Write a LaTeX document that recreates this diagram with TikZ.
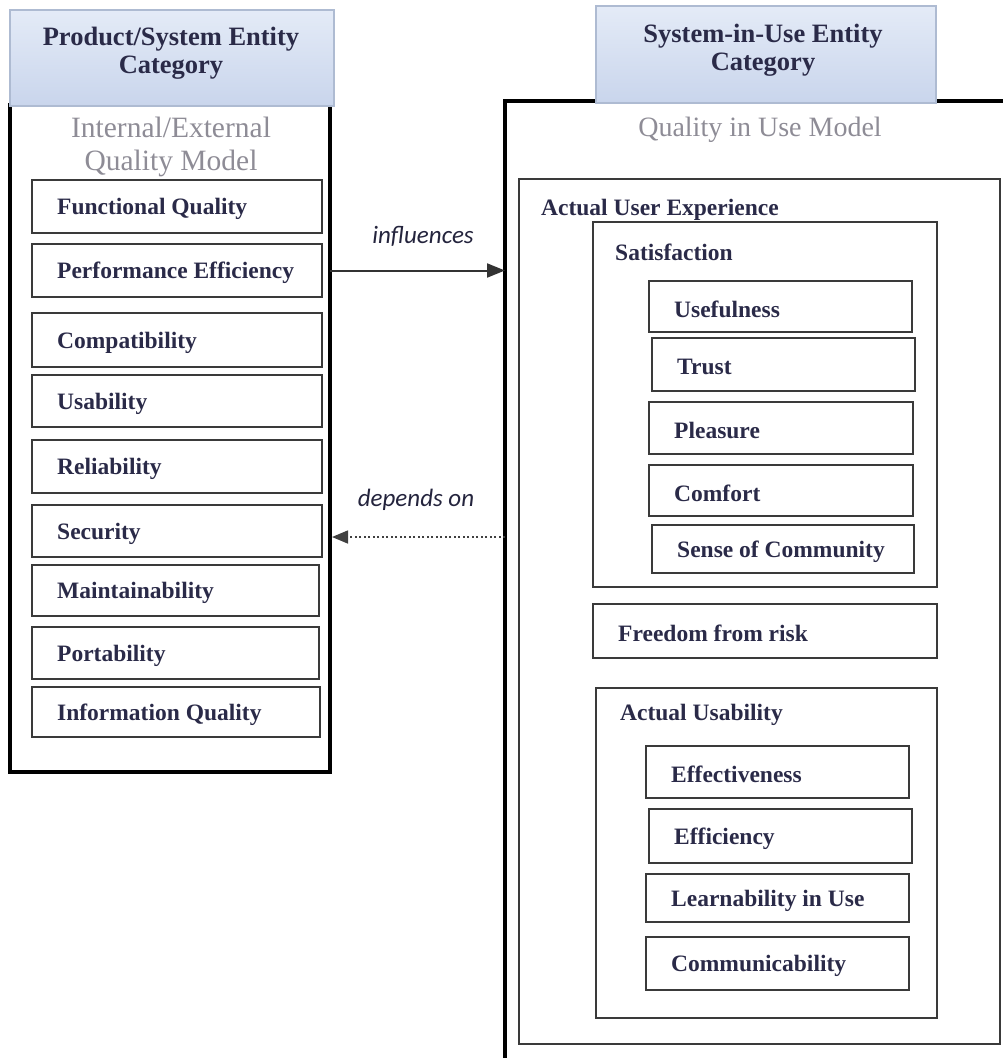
\documentclass[tikz,border=0pt]{standalone}
\usepackage{fontspec}
\setmainfont{Liberation Serif}
\newfontfamily\carl{Carlito}
\usetikzlibrary{arrows.meta,calc}
\definecolor{itemcol}{HTML}{2A2A48}
\definecolor{titlegray}{HTML}{8E8C96}
\definecolor{boxgray}{HTML}{3A3A3A}
\definecolor{hdrtop}{HTML}{E4EBF7}
\definecolor{hdrbot}{HTML}{C9D5EC}
\definecolor{hdrline}{HTML}{AEBBD2}
\tikzset{
  boxframe/.style={draw=boxgray, line width=2.2pt, anchor=north west, inner sep=0pt, outer sep=0pt},
  outerframe/.style={draw=black, line width=4pt, anchor=north west, inner sep=0pt, outer sep=0pt},
  itemtext/.style={anchor=west, inner sep=0pt, text=itemcol, font=\fontsize{23.5}{27}\selectfont\bfseries},
  hdrbox/.style={draw=hdrline, line width=1.5pt, top color=hdrtop, bottom color=hdrbot, anchor=north west, inner sep=0pt},
  hdrtext/.style={align=center, text=itemcol, font=\fontsize{26.5}{28.5}\selectfont\bfseries},
  graytitle/.style={align=center, text=titlegray, font=\fontsize{28}{33}\selectfont},
  arrlabel/.style={text=itemcol!85!black, font=\carl\itshape\fontsize{25}{28}\selectfont},
}
\newcommand\qbox[6]{% name, x1, y1, x2, y2, text
  \node[boxframe, minimum width={#4-#2}, minimum height={#5-#3}] (#1) at (#2,#3) {};
  \node[itemtext] (#1t) at ([xshift=25pt,yshift=-2.5pt]#1.west) {#6};}
\begin{document}
\begin{tikzpicture}[x=1pt,y=-1pt]
\useasboundingbox (0,0) rectangle (1002,1058);
% ---------------- left side ----------------
\node[outerframe, minimum width=320, minimum height=667] (leftbox) at (10,105) {};
\node[hdrbox, minimum width=324, minimum height=96] (lefthdr) at (9,9) {};
\node[hdrtext] (lefthdrt) at (171,53) {Product/System Entity\\Category};
\node[graytitle, font=\fontsize{29.5}{33}\selectfont] (lefttitle) at (171,147) {Internal/External\\Quality Model};
\qbox{fq}{32}{180}{322}{233}{Functional Quality}
\qbox{pe}{32}{244}{322}{297}{Performance Efficiency}
\qbox{co}{32}{313}{322}{367}{Compatibility}
\qbox{us}{32}{375}{322}{427}{Usability}
\qbox{re}{32}{440}{322}{493}{Reliability}
\qbox{se}{32}{505}{322}{557}{Security}
\qbox{ma}{32}{565}{319}{616}{Maintainability}
\qbox{po}{32}{627}{319}{679}{Portability}
\qbox{iq}{32}{687}{320}{737}{Information Quality}
% ---------------- right side ----------------
\node[outerframe, minimum width=520, minimum height=980] (rightbox) at (505,101) {};
\node[hdrbox, minimum width=340, minimum height=97] (righthdr) at (595,5) {};
\node[hdrtext] (righthdrt) at (763,50) {System-in-Use Entity\\Category};
\node[graytitle] (righttitle) at (760,130) {Quality in Use Model};
\node[boxframe, minimum width=481, minimum height=865] (aue) at (519,179) {};
\node[itemtext] (auet) at (541,210) {Actual User Experience};
\node[boxframe, minimum width=344, minimum height=365] (sat) at (593,222) {};
\node[itemtext] (satt) at (615,252) {Satisfaction};
\qbox{uf}{649}{281}{912}{332}{Usefulness}
\qbox{tr}{652}{338}{915}{391}{Trust}
\qbox{pl}{649}{402}{913}{454}{Pleasure}
\qbox{cf}{649}{465}{913}{516}{Comfort}
\qbox{sc}{652}{525}{914}{573}{Sense of Community}
\qbox{fr}{593}{604}{937}{658}{Freedom from risk}
\node[boxframe, minimum width=341, minimum height=330] (au) at (596,688) {};
\node[itemtext] (aut) at (620,715) {Actual Usability};
\qbox{ef}{646}{746}{909}{798}{Effectiveness}
\qbox{ei}{649}{809}{912}{863}{Efficiency}
\qbox{le}{646}{874}{909}{922}{Learnability in Use}
\qbox{cm}{646}{937}{909}{990}{Communicability}
% ---------------- connectors ----------------
\coordinate (inA) at (leftbox.east |- pe.east);
\coordinate (inB) at (rightbox.west |- pe.east);
\draw[line width=2pt, draw=black!80, -{Triangle[length=18pt,width=14pt]}] (inA) -- (inB);
\node[arrlabel] (inl) at (423,236) {influences};
\coordinate (dpA) at ($(rightbox.west |- se.east)+(0,6)$);
\coordinate (dpB) at ($(leftbox.east |- se.east)+(2,6)$);
\draw[line width=1.6pt, draw=black!75, dash pattern=on 2pt off 2.5pt, -{Triangle[length=16pt,width=13pt]}] (dpA) -- (dpB);
\node[arrlabel] (dpl) at (416,500) {depends on};
\end{tikzpicture}
\end{document}
